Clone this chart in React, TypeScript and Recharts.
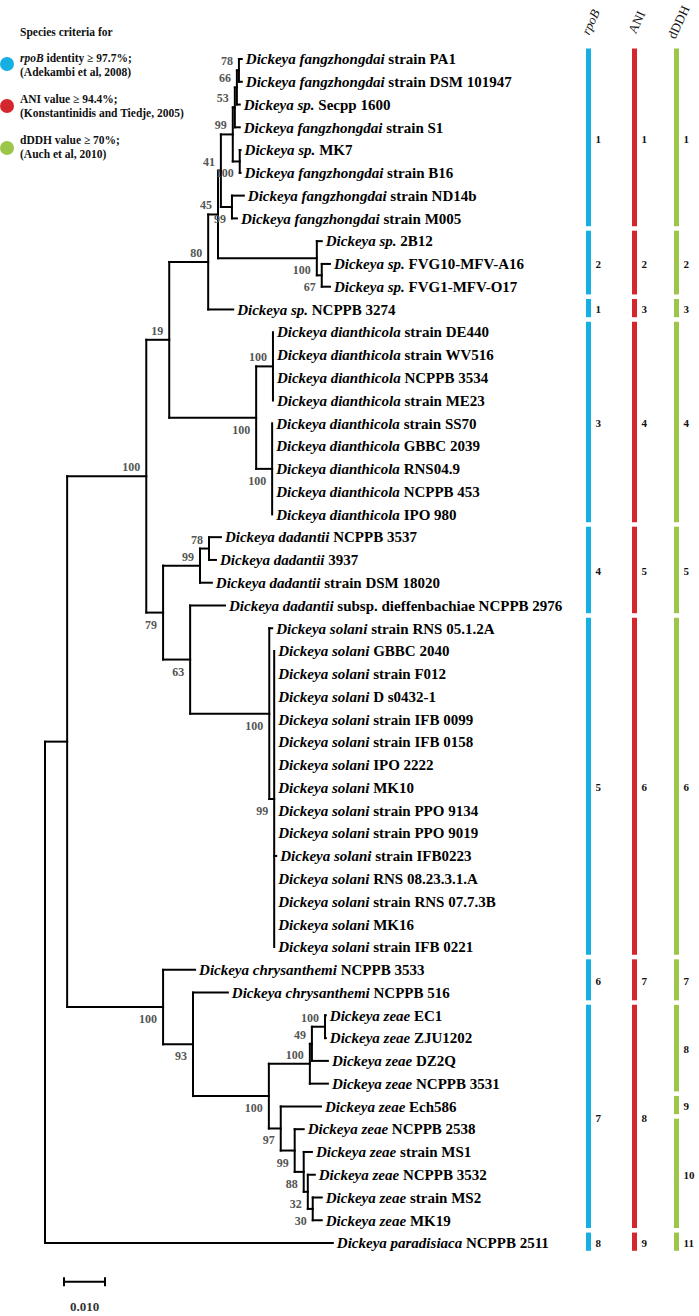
import React from "react";
import { ComposedChart, XAxis, YAxis, Scatter, ReferenceLine, ReferenceArea } from "recharts";

const WIDTH = 699;
const HEIGHT = 1316;
const SERIF = "'Liberation Serif', 'Times New Roman', serif";

// internal nodes: id, parent, branch length (subst./site), bootstrap, label side (a = above, b = below)
const treeNodes: [string, string | null, number, number | null, "a" | "b"][] = [
  ["root", null, 0, null, "a"],
  ["nA", "root", 0.0054, null, "a"],
  ["nB", "nA", 0.0193, 100, "a"],
  ["n19", "nB", 0.0056, 19, "a"],
  ["n80", "n19", 0.0095, 80, "a"],
  ["n45", "n80", 0.0024, 45, "a"],
  ["n41", "n45", 0.0007, 41, "a"],
  ["n99a", "n41", 0.0029, 99, "a"],
  ["n53", "n99a", 0.0005, 53, "a"],
  ["n66", "n53", 0.0005, 66, "a"],
  ["n78a", "n66", 0.0005, 78, "a"],
  ["nMK", "n99a", 0.0017, 100, "b"],
  ["nND", "n41", 0.0027, 99, "b"],
  ["n2B", "n45", 0.0241, 100, "b"],
  ["nFVG", "n2B", 0.0012, 67, "b"],
  ["nDia", "n19", 0.0212, 100, "b"],
  ["nDia1", "nDia", 0.0041, 100, "a"],
  ["nDia2", "nDia", 0.0039, 100, "b"],
  ["n79", "nB", 0.0041, 79, "b"],
  ["n99d", "n79", 0.009, 99, "a"],
  ["n78d", "n99d", 0.0022, 78, "a"],
  ["n63", "n79", 0.0066, 63, "b"],
  ["nSol", "n63", 0.0193, 100, "b"],
  ["nSol2", "nSol", 0.0012, 99, "b"],
  ["nC", "nA", 0.0234, 100, "b"],
  ["n93", "nC", 0.0073, 93, "b"],
  ["nZ", "n93", 0.0185, 100, "b"],
  ["nZe", "nZ", 0.01, 100, "a"],
  ["n49", "nZe", 0.0005, 49, "a"],
  ["nEC", "n49", 0.0032, 100, "a"],
  ["n97", "nZ", 0.0029, 97, "b"],
  ["n99z", "n97", 0.0034, 99, "b"],
  ["n88", "n99z", 0.0022, 88, "b"],
  ["n32", "n88", 0.001, 32, "b"],
  ["n30", "n32", 0.0012, 30, "b"],
];

// leaves in drawing order: species (italic), strain, parent node, branch length
const leaves: [string, string, string, number][] = [
  ["Dickeya fangzhongdai", "strain PA1", "n78a", 0.0007],
  ["Dickeya fangzhongdai", "strain DSM 101947", "n78a", 0.0007],
  ["Dickeya sp.", "Secpp 1600", "n66", 0.0007],
  ["Dickeya fangzhongdai", "strain S1", "n53", 0.0012],
  ["Dickeya sp.", "MK7", "nMK", 0.0002],
  ["Dickeya fangzhongdai", "strain B16", "nMK", 0.0002],
  ["Dickeya fangzhongdai", "strain ND14b", "nND", 0.0029],
  ["Dickeya fangzhongdai", "strain M005", "nND", 0.0012],
  ["Dickeya sp.", "2B12", "n2B", 0.0012],
  ["Dickeya sp.", "FVG10-MFV-A16", "nFVG", 0.002],
  ["Dickeya sp.", "FVG1-MFV-O17", "nFVG", 0.002],
  ["Dickeya sp.", "NCPPB 3274", "n80", 0.0061],
  ["Dickeya dianthicola", "strain DE440", "nDia1", 0],
  ["Dickeya dianthicola", "strain WV516", "nDia1", 0],
  ["Dickeya dianthicola", "NCPPB 3534", "nDia1", 0],
  ["Dickeya dianthicola", "strain ME23", "nDia1", 0],
  ["Dickeya dianthicola", "strain SS70", "nDia2", 0],
  ["Dickeya dianthicola", "GBBC 2039", "nDia2", 0],
  ["Dickeya dianthicola", "RNS04.9", "nDia2", 0],
  ["Dickeya dianthicola", "NCPPB 453", "nDia2", 0],
  ["Dickeya dianthicola", "IPO 980", "nDia2", 0],
  ["Dickeya dadantii", "NCPPB 3537", "n78d", 0.0029],
  ["Dickeya dadantii", "3937", "n78d", 0.0017],
  ["Dickeya dadantii", "strain DSM 18020", "n99d", 0.0029],
  ["Dickeya dadantii", "subsp. dieffenbachiae NCPPB 2976", "n63", 0.0085],
  ["Dickeya solani", "strain RNS 05.1.2A", "nSol", 0.0007],
  ["Dickeya solani", "GBBC 2040", "nSol2", 0],
  ["Dickeya solani", "strain F012", "nSol2", 0],
  ["Dickeya solani", "D s0432-1", "nSol2", 0],
  ["Dickeya solani", "strain IFB 0099", "nSol2", 0],
  ["Dickeya solani", "strain IFB 0158", "nSol2", 0],
  ["Dickeya solani", "IPO 2222", "nSol2", 0],
  ["Dickeya solani", "MK10", "nSol2", 0],
  ["Dickeya solani", "strain PPO 9134", "nSol2", 0],
  ["Dickeya solani", "strain PPO 9019", "nSol2", 0],
  ["Dickeya solani", "strain IFB0223", "nSol2", 0.0005],
  ["Dickeya solani", "RNS 08.23.3.1.A", "nSol2", 0],
  ["Dickeya solani", "strain RNS 07.7.3B", "nSol2", 0],
  ["Dickeya solani", "MK16", "nSol2", 0],
  ["Dickeya solani", "strain IFB 0221", "nSol2", 0],
  ["Dickeya chrysanthemi", "NCPPB 3533", "nC", 0.0078],
  ["Dickeya chrysanthemi", "NCPPB 516", "n93", 0.0085],
  ["Dickeya zeae", "EC1", "nEC", 0.0002],
  ["Dickeya zeae", "ZJU1202", "nEC", 0.0002],
  ["Dickeya zeae", "DZ2Q", "n49", 0.0039],
  ["Dickeya zeae", "NCPPB 3531", "nZe", 0.0044],
  ["Dickeya zeae", "Ech586", "n97", 0.0098],
  ["Dickeya zeae", "NCPPB 2538", "n99z", 0.0022],
  ["Dickeya zeae", "strain MS1", "n88", 0.002],
  ["Dickeya zeae", "NCPPB 3532", "n32", 0.0017],
  ["Dickeya zeae", "strain MS2", "n30", 0.0022],
  ["Dickeya zeae", "MK19", "n30", 0.0022],
  ["Dickeya paradisiaca", "NCPPB 2511", "root", 0.0702],
];

// species groups: label, first leaf, last leaf
const rpoBGroups: [string, number, number][] = [
  ["1", 0, 7], ["2", 8, 10], ["1", 11, 11], ["3", 12, 20], ["4", 21, 24],
  ["5", 25, 39], ["6", 40, 41], ["7", 42, 51], ["8", 52, 52],
];
const aniGroups: [string, number, number][] = [
  ["1", 0, 7], ["2", 8, 10], ["3", 11, 11], ["4", 12, 20], ["5", 21, 24],
  ["6", 25, 39], ["7", 40, 41], ["8", 42, 51], ["9", 52, 52],
];
const dddhGroups: [string, number, number][] = [
  ["1", 0, 7], ["2", 8, 10], ["3", 11, 11], ["4", 12, 20], ["5", 21, 24],
  ["6", 25, 39], ["7", 40, 41], ["8", 42, 45], ["9", 46, 46], ["10", 47, 51], ["11", 52, 52],
];

const SCALE_LEN = 0.01;

// layout constants
const ROOT_PX = 45;
const PX_PER_UNIT = 4100;
const ROW0_PX = 59;
const ROW_STEP = 22.77;
const xDomain = [-ROOT_PX / PX_PER_UNIT, (WIDTH - ROOT_PX) / PX_PER_UNIT];
const yDomain = [-ROW0_PX / ROW_STEP, (HEIGHT - ROW0_PX) / ROW_STEP];

const columns = [
  { name: "rpoB", italic: true, x: 588.5, color: "#16afe3", groups: rpoBGroups },
  { name: "ANI", italic: false, x: 634.5, color: "#d5262e", groups: aniGroups },
  { name: "dDDH", italic: false, x: 676.5, color: "#9cc64a", groups: dddhGroups },
];

function buildTree() {
  const x: Record<string, number> = {};
  const y: Record<string, number> = {};
  treeNodes.forEach(([id, parent, len]) => {
    x[id] = parent ? x[parent] + len : 0;
  });
  const leafPts = leaves.map(([sp, st, parent, len], i) => ({ x: x[parent] + len, y: i, sp, st, parent }));
  const span: Record<string, [number, number]> = {};
  const grow = (id: string, v: number) => {
    const s = span[id];
    span[id] = s ? [Math.min(s[0], v), Math.max(s[1], v)] : [v, v];
  };
  leafPts.forEach((l) => grow(l.parent, l.y));
  for (let i = treeNodes.length - 1; i >= 0; i--) {
    const [id, parent] = treeNodes[i];
    y[id] = (span[id][0] + span[id][1]) / 2;
    if (parent) grow(parent, y[id]);
  }
  const segs: { x1: number; y1: number; x2: number; y2: number }[] = [];
  treeNodes.forEach(([id, parent]) => {
    if (parent) segs.push({ x1: x[parent], y1: y[id], x2: x[id], y2: y[id] });
    segs.push({ x1: x[id], y1: span[id][0], x2: x[id], y2: span[id][1] });
  });
  leafPts.forEach((l) => {
    if (l.x > x[l.parent]) segs.push({ x1: x[l.parent], y1: l.y, x2: l.x, y2: l.y });
  });
  const boot = treeNodes
    .filter((n) => n[3] !== null)
    .map(([id, , , b, side]) => ({ x: x[id], y: y[id], label: String(b), side }));
  return { segs, leafPts, boot };
}

const LeafLabel = (p: any) => {
  const d = p.payload || p;
  return (
    <text x={p.cx + 4} y={p.cy} dy="0.35em" fontFamily={SERIF} fontWeight="bold" fontSize={15} fill="#000" style={{ whiteSpace: "pre" }}>
      <tspan fontStyle="italic">{d.sp}</tspan>
      <tspan>{" " + d.st}</tspan>
    </text>
  );
};

const BootLabel = (p: any) => {
  const d = p.payload || p;
  return (
    <text x={p.cx - 6} y={d.side === "a" ? p.cy - 5 : p.cy + 16} textAnchor="end" fontFamily={SERIF} fontWeight="bold" fontSize={12} fill="#555">
      {d.label}
    </text>
  );
};

const GroupLabel = (p: any) => {
  const d = p.payload || p;
  return (
    <text x={p.cx} y={p.cy} dy="0.35em" fontFamily={SERIF} fontWeight="bold" fontSize={11} fill="#111">
      {d.label}
    </text>
  );
};

const ScaleLabel = (p: any) => (
  <text x={p.cx} y={p.cy} dy="0.35em" textAnchor="middle" fontFamily={SERIF} fontWeight="bold" fontSize={13} fill="#333">
    0.010
  </text>
);

export default function App() {
  const { segs, leafPts, boot } = buildTree();
  const scaleStart = (64 - ROOT_PX) / PX_PER_UNIT;
  const scaleRow = 53.7;
  const groupLabels = columns.flatMap((c) =>
    c.groups.map(([label, a, b]) => ({ x: c.x + 7, y: (a + b) / 2, label }))
  );

  return (
    <div style={{ position: "absolute", left: 0, top: 0, width: WIDTH, height: HEIGHT, background: "#fff" }}>
      <ComposedChart width={WIDTH} height={HEIGHT} margin={{ top: 0, right: 0, bottom: 0, left: 0 }}>
        <XAxis xAxisId="tree" type="number" dataKey="x" domain={xDomain} allowDataOverflow hide />
        <XAxis xAxisId="col" type="number" dataKey="x" domain={[0, WIDTH]} allowDataOverflow hide />
        <YAxis yAxisId="row" type="number" dataKey="y" domain={yDomain} allowDataOverflow reversed hide />

        {segs.map((s, i) => (
          <ReferenceLine
            key={"s" + i}
            xAxisId="tree"
            yAxisId="row"
            segment={[{ x: s.x1, y: s.y1 }, { x: s.x2, y: s.y2 }]}
            stroke="#000"
            strokeWidth={2}
            strokeLinecap="square"
            ifOverflow="visible"
          />
        ))}

        {columns.map((c) =>
          c.groups.map(([label, a, b], i) => (
            <ReferenceArea
              key={c.name + i}
              xAxisId="col"
              yAxisId="row"
              x1={c.x - 2.5}
              x2={c.x + 2.5}
              y1={a - 0.46}
              y2={b + 0.34}
              fill={c.color}
              fillOpacity={1}
              stroke="none"
              ifOverflow="visible"
            />
          ))
        )}

        {/* scale bar */}
        <ReferenceLine xAxisId="tree" yAxisId="row" segment={[{ x: scaleStart, y: scaleRow }, { x: scaleStart + SCALE_LEN, y: scaleRow }]} stroke="#000" strokeWidth={2} ifOverflow="visible" />
        <ReferenceLine xAxisId="tree" yAxisId="row" segment={[{ x: scaleStart, y: scaleRow - 0.2 }, { x: scaleStart, y: scaleRow + 0.2 }]} stroke="#000" strokeWidth={2} ifOverflow="visible" />
        <ReferenceLine xAxisId="tree" yAxisId="row" segment={[{ x: scaleStart + SCALE_LEN, y: scaleRow - 0.2 }, { x: scaleStart + SCALE_LEN, y: scaleRow + 0.2 }]} stroke="#000" strokeWidth={2} ifOverflow="visible" />

        <Scatter xAxisId="tree" yAxisId="row" data={leafPts} shape={LeafLabel} isAnimationActive={false} />
        <Scatter xAxisId="tree" yAxisId="row" data={boot} shape={BootLabel} isAnimationActive={false} />
        <Scatter xAxisId="col" yAxisId="row" data={groupLabels} shape={GroupLabel} isAnimationActive={false} />
        <Scatter xAxisId="tree" yAxisId="row" data={[{ x: scaleStart + SCALE_LEN / 2, y: scaleRow + 1.1 }]} shape={ScaleLabel} isAnimationActive={false} />
      </ComposedChart>

      <svg width={WIDTH} height={HEIGHT} style={{ position: "absolute", left: 0, top: 0, pointerEvents: "none" }}>
        <g fontFamily={SERIF} fontWeight="bold" fontSize={11.5} fill="#111">
          <text x={20} y={36}>Species criteria for</text>
          <circle cx={7} cy={64} r={7} fill={columns[0].color} />
          <text x={20} y={62}>
            <tspan fontStyle="italic">rpoB</tspan> identity ≥ 97.7%;
          </text>
          <text x={20} y={76}>(Adekambi et al, 2008)</text>
          <circle cx={7} cy={106} r={7} fill={columns[1].color} />
          <text x={20} y={103}>ANI value ≥ 94.4%;</text>
          <text x={20} y={117}>(Konstantinidis and Tiedje, 2005)</text>
          <circle cx={7} cy={148} r={7} fill={columns[2].color} />
          <text x={20} y={144}>dDDH value ≥ 70%;</text>
          <text x={20} y={158}>(Auch et al, 2010)</text>
        </g>
        {columns.map((c) => (
          <text
            key={c.name}
            x={c.x + 2}
            y={22}
            textAnchor="middle"
            dy="0.35em"
            transform={`rotate(-65 ${c.x + 2} 22)`}
            fontFamily={SERIF}
            fontSize={13}
            fontStyle={c.italic ? "italic" : "normal"}
            fill="#111"
          >
            {c.name}
          </text>
        ))}
      </svg>
    </div>
  );
}
